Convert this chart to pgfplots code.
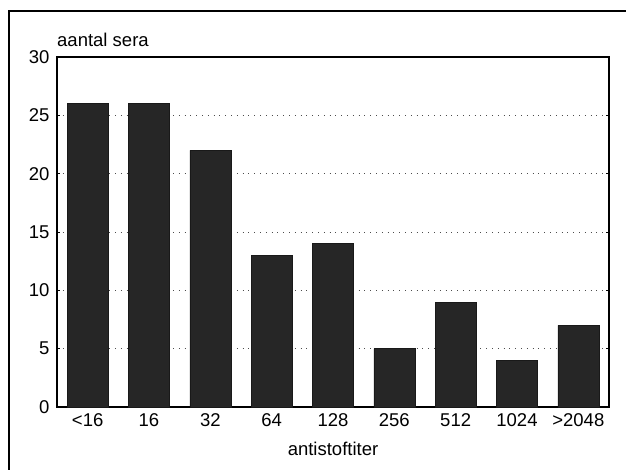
\documentclass[border=0pt]{standalone}
\usepackage{fontspec}
\setmainfont{Liberation Sans}
\usepackage{pgfplots}
\pgfplotsset{compat=1.18}
\begin{document}
\begin{tikzpicture}
\path[use as bounding box] (0,0) rectangle (626pt,469pt);
\draw[line width=1.3pt] (9pt,-10pt) -- (9pt,458pt) -- (640pt,458pt);
\begin{axis}[
  at={(57pt,62pt)}, anchor=south west,
  scale only axis, width=552pt, height=350pt,
  ybar, bar width=41pt,
  xmin=-0.5, xmax=8.5, ymin=0, ymax=30,
  xtick=data,
  xticklabels={<16,16,32,64,128,256,512,1024,>2048},
  ytick={0,5,10,15,20,25,30},
  xtick style={draw=none},
  ytick style={draw=black, line width=0.6pt},
  major tick length=3pt,
  tick align=inside,
  ymajorgrids,
  grid style={black!70, line width=0.8pt, dash pattern=on 0.8pt off 5pt},
  axis line style={line width=1.1pt},
  /pgf/number format/assume math mode=true,
  tick label style={font=\fontsize{18.5}{22}\selectfont},
  xticklabel style={yshift=-3pt},
  yticklabel style={xshift=-4pt},
]
\addplot[fill=black!85, draw=black!90, line width=0.5pt] coordinates {(0,26) (1,26) (2,22) (3,13) (4,14) (5,5) (6,9) (7,4) (8,7)};
\end{axis}
\node[anchor=base west, inner sep=0pt, font=\fontsize{18.5}{22}\selectfont] at (57pt,422pt) {aantal sera};
\node[anchor=base, inner sep=0pt, font=\fontsize{18.5}{22}\selectfont] at (333pt,14pt) {antistoftiter};
\end{tikzpicture}
\end{document}
